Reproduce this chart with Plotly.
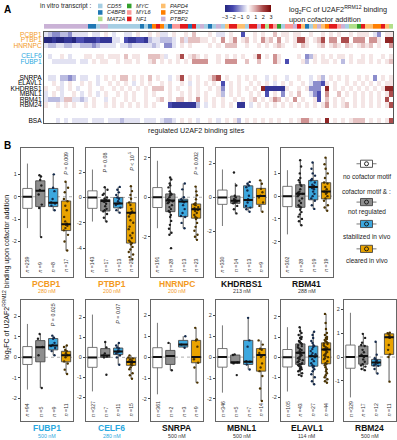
import plotly.graph_objects as go

W, H = 397, 440
FONT = "Liberation Sans, Arial, sans-serif"
ORANGE_T = "#F39A1E"
BLUE_T = "#2AA8E0"

# ---------------- Panel A data ----------------
transcripts = ["CD55", "C4BPB", "MAT2A", "MYC", "MYL6", "NF1", "PAPD4", "PCBP2", "PTBP2"]
transcript_colors = ["#A6CEE3", "#1F78B4", "#B2DF8A", "#33A02C", "#FB9A99",
                     "#E31A1C", "#FDBF6F", "#FF7F00", "#CAB2D6"]
transcript_codes = "CBTMLNAOP"
site_transcript = ("PPPPPPPPPPP" "BB" "C" "PP" "CCCCCCCC" "BCBONOCB" "LLNNBNCPCBCPCA"
                   "NNAACNNPNTNLMC" "LLPNABCAPAONNL" "PCTTMNAAOONAT")

heat_rows = ["PCBP1", "PTBP1", "HNRNPC", "CELF6", "FUBP1", "SNRPA", "ELAVL1",
             "KHDRBS1", "MBNL1", "RBM41", "RBM24", "BSA"]
heat_label_colors = [ORANGE_T, ORANGE_T, ORANGE_T, BLUE_T, BLUE_T, "#000", "#000",
                     "#000", "#000", "#000", "#000", "#000"]
# log2FC levels per site, coded: . 0 | a..f positive | A..F negative
level_code = {".": 0.0, "a": 0.3, "b": 0.7, "c": 1.2, "d": 1.9, "e": 2.5, "f": 3.0,
              "A": -0.3, "B": -0.7, "C": -1.2, "D": -1.9, "E": -2.5, "F": -3.0}
fc_PCBP1 = "ABCCBBCAAA" "A.AA.a.A.." "AA.a..a.aA" "A.a..a.b.." ".a.AA.a..D" "..a.a..b.a" "a.aa..a..a" ".a.a..a.aa" "a.AC.aa"
fc_PTBP1 = "FFEFFEEFDD" "EEEDEEEAA." "DEEDDEBAAB" "BBA.bAbbba" "a.a.c.ac.a" "b.a.cab.c." "a.adda.abd" ".cc.dd.ccc" ".cca.ee"
fc_HNRNPC = "ABBAABBAAB" "BBCBAAAA.A" "ABAAAAABA." "CCA.a.a..." ".a.a.bbb.." "a..a.a.aba" "..a.ba..ab" ".aba.ba.ab" "ab.a..c"
fc_CELF6 = ".A..a.A..." "aa.aa.aaa." "b.aa..bbba" "A..ad.aba." "a..a.a.a.a" "..ad.a.ca." "...a.CBa.a" ".a.aa.a..a" ".a..a.a"
fc_FUBP1 = "..AAAAAA.A" "A.a.aa..a." "aa.a..ab.a" ".a.a.a.ccc" "c..a.ccc.." "b..b...ca." "D...aB.a.a" "a.a.B.a.aa" ".a.a.ab"
fc_SNRPA = ".AA.BBCB.A" "A..A.a.a.b" "b.a.a.b.a." ".A.ad.a.a." ".acd.a..a." "a.a..A.a.." "A..a..A.aB" ".a.a.a..a." "a.C.a.a"
fc_ELAVL1 = "..a.A.a..a" ".a.A..a.a." "a.A.a.a..a" ".a..a.A.a." "a.a.D.a.a." ".a.a.a.A.a" ".a..a.ACCD" "a.a..a.a.a" ".a.a.aa"
fc_KHDRBS1 = "a..aA.a.A." ".a..a..a.a" ".a.a.a.bbb" ".a.a..a.a." ".a.aC.a.a." "a.a.eEEEEE" "a..a.aCCC." "e.a.a.a.a." "a.a.aee"
fc_MBNL1 = "A.a.A..a.A" ".a.A.a..a." "a.a..a.a.." ".a..a.a.a." "a..aB.a.a." ".a.a.D.a.C" ".a.b..ACD." "c..b.a.a.a" ".a.a.ad"
fc_RBM41 = "ABBBAbbAAB" "A.a..A.a.." "a.a..a..ab" ".a.bb.a.c." "a.a.a..a.a" ".ab.a.acb." "a.c.a..aD." "b.a.a..a.a" ".a.a.d."
fc_RBM24 = "a..a.a.a.." "a.a..a.a.a" ".a.a.a.a.." ".DEEEEEEB." "A.a.a.a.EE" ".A.a.a.a.a" ".a.a.a.a.a" "c.a.ab.a.a" ".a.a.ad"
fc_BSA = "...A.A.AAA" "A.AAA.AAAB" "AAAA.AAA.A" "BBA.a.a.A." ".a.A.a.aB." "a.a.a.a.a." ".a.acca.a." "e.a.a.abbb" ".a.a.ad"

# ---------------- Panel B data ----------------
groups = ["no cofactor motif", "not regulated", "stabilized in vivo", "cleared in vivo"]
# per group: [lower whisker, Q1, median, Q3, upper whisker]
PCBP1_stats = [[-1.4, -0.52, 0.0, 0.37, 1.48], [-1.8, -0.44, 0.27, 0.71, 0.96], [-0.62, -0.44, -0.27, 0.37, 1.0], [-2.41, -1.51, -1.23, -0.19, 0.67]]
PCBP1_n = [239, 9, 8, 17]
PCBP1_gray = [0.96, 0.9, 0.75, 0.5, 0.3, 0.1, -0.35, -0.5, -1.8]
PCBP1_blue = [1.0, 0.4, 0.25, -0.1, -0.25, -0.3, -0.4, -0.6]
PCBP1_orange = [0.67, 0.4, 0.2, -0.1, -0.2, -0.4, -0.6, -0.9, -1.1, -1.2, -1.25, -1.3, -1.4, -1.5, -1.7, -2.0, -2.4]

PTBP1_stats = [[-1.9, -0.86, 0.0, 0.52, 2.2], [-1.9, -1.07, -0.29, -0.16, 0.78], [-1.2, -0.82, -0.47, 0.0, 0.83], [-4.86, -3.6, -1.2, -0.42, 0.89]]
PTBP1_n = [143, 17, 13, 28]
PTBP1_gray = [0.8, 0.6, 0.3, 0.2, 0.0, -0.1, -0.2, -0.3, -0.35, -0.5, -0.7, -0.9, -1.0, -1.1, -1.3, -1.6, -1.9]
PTBP1_blue = [0.83, 0.6, 0.4, 0.2, 0.0, -0.1, -0.3, -0.45, -0.5, -0.6, -0.8, -1.0, -1.2]
PTBP1_orange = [0.89, 0.5, 0.2, -0.1, -0.4, -0.6, -0.9, -1.1, -1.2, -1.3, -1.5, -1.8, -2.0, -2.3, -2.5, -2.8, -3.0, -3.2, -3.4, -3.5, -3.6, -3.7, -3.9, -4.1, -4.3, -4.5, -4.7, -4.86]

HNRNPC_stats = [[-1.57, -0.52, 0.0, 0.49, 1.85], [-1.9, -0.73, -0.17, 0.17, 1.0], [-1.57, -0.98, -0.22, -0.1, 0.7], [-2.16, -1.06, -0.61, -0.34, 0.54]]
HNRNPC_n = [191, 28, 13, 23]
HNRNPC_gray = [1.0, 0.9, 0.7, 0.6, 0.5, 0.3, 0.2, 0.15, 0.1, 0.0, -0.1, -0.15, -0.2, -0.25, -0.3, -0.4, -0.5, -0.6, -0.7, -0.75, -0.9, -1.0, -1.2, -1.4, -1.6, -1.8, -1.9, -2.58]
HNRNPC_blue = [0.7, 0.4, 0.0, -0.1, -0.2, -0.25, -0.4, -0.6, -0.8, -0.95, -1.0, -1.3, -1.57]
HNRNPC_orange = [0.54, 0.3, 0.1, -0.1, -0.3, -0.35, -0.4, -0.5, -0.55, -0.6, -0.65, -0.7, -0.8, -0.9, -1.0, -1.05, -1.1, -1.3, -1.5, -1.7, -1.9, -2.0, -2.16]

KHDRBS1_stats = [[-1.68, -0.41, 0.0, 0.43, 1.64], [-0.94, -0.35, -0.2, 0.08, 0.85], [-0.84, -0.61, -0.16, 0.68, 0.91], [-0.84, -0.41, 0.08, 0.53, 1.0]]
KHDRBS1_n = [330, 14, 13, 9]
KHDRBS1_gray = [1.46, 0.7, 0.1, 0.0, -0.1, -0.15, -0.2, -0.2, -0.25, -0.3, -0.35, -0.5, -0.7, -0.94]
KHDRBS1_blue = [0.91, 0.8, 0.7, 0.6, 0.4, 0.1, -0.1, -0.16, -0.3, -0.5, -0.6, -0.7, -0.84]
KHDRBS1_orange = [1.0, 0.8, 0.5, 0.3, 0.1, 0.0, -0.3, -0.5, -0.84]

RBM41_stats = [[-1.68, -0.46, 0.0, 0.43, 1.14], [-1.28, -0.49, 0.1, 0.5, 1.58], [-0.56, -0.16, 0.4, 0.69, 1.48], [-0.64, -0.12, 0.2, 0.59, 1.69]]
RBM41_n = [302, 28, 19, 19]
RBM41_gray = [1.58, 1.3, 1.0, 0.8, 0.7, 0.6, 0.5, 0.45, 0.3, 0.2, 0.15, 0.1, 0.1, 0.05, 0.0, -0.1, -0.2, -0.3, -0.4, -0.45, -0.5, -0.6, -0.7, -0.8, -0.9, -1.0, -1.1, -1.28]
RBM41_blue = [1.48, 1.2, 1.0, 0.9, 0.75, 0.7, 0.6, 0.5, 0.45, 0.4, 0.35, 0.3, 0.2, 0.1, 0.0, -0.1, -0.2, -0.4, -0.56]
RBM41_orange = [1.69, 1.4, 1.2, 1.0, 0.8, 0.6, 0.55, 0.4, 0.3, 0.2, 0.2, 0.15, 0.1, 0.0, -0.1, -0.2, -0.4, -0.5, -0.64]

FUBP1_stats = [[-1.57, -0.35, 0.0, 0.52, 1.62], [-1.49, -0.22, 0.49, 0.81, 1.13], [0.1, 0.36, 0.57, 0.91, 1.05], [-0.81, -0.22, 0.1, 0.29, 0.57]]
FUBP1_n = [94, 5, 9, 11]
FUBP1_gray = [1.13, 0.9, 0.5, 0.1, -1.49]
FUBP1_blue = [1.05, 0.95, 0.9, 0.7, 0.6, 0.55, 0.45, 0.3, 0.1]
FUBP1_orange = [0.57, 0.5, 0.35, 0.3, 0.2, 0.1, 0.0, -0.2, -0.3, -0.6, -0.81]

CELF6_stats = [[-1.71, -0.5, 0.0, 0.5, 2.15], [0.0, 0.0, 0.1, 0.44, 0.77], [-0.37, 0.14, 0.3, 0.47, 0.72], [-1.07, -0.4, -0.23, -0.03, 0.1]]
CELF6_n = [327, 7, 11, 15]
CELF6_gray = [0.77, 0.5, 0.2, 0.1, 0.05, 0.0, -0.87]
CELF6_blue = [0.72, 0.6, 0.5, 0.45, 0.35, 0.3, 0.25, 0.2, 0.1, 0.0, -0.37]
CELF6_orange = [0.1, 0.0, -0.05, -0.1, -0.15, -0.2, -0.23, -0.3, -0.35, -0.4, -0.5, -0.6, -0.8, -0.9, -1.07]

SNRPA_stats = [[-1.78, -0.51, 0.0, 0.45, 1.64], [-0.63, -0.35, 0.05, 0.32, 0.68], [0.45, 0.48, 0.6, 0.8, 1.0], [-1.22, -0.27, 0.0, 0.8, 1.4]]
SNRPA_n = [361, 2, 3, 9]
SNRPA_gray = [0.68, -0.63]
SNRPA_blue = [1.0, 0.6, 0.45]
SNRPA_orange = [1.4, 0.85, 0.8, 0.5, 0.0, -0.1, -0.27, -0.5, -1.22]

MBNL1_stats = [[-1.7, -0.48, 0.0, 0.41, 1.52], [-0.3, -0.3, -0.25, 0.1, 0.13], [-0.59, -0.35, -0.22, 0.8, 1.88], [-2.1, -0.67, 0.1, 0.41, 0.8]]
MBNL1_n = [346, 5, 7, 14]
MBNL1_gray = [0.13, 0.1, -0.25, -0.3, -0.86]
MBNL1_blue = [1.88, 0.8, 0.5, -0.2, -0.22, -0.35, -0.59]
MBNL1_orange = [0.8, 0.6, 0.4, 0.35, 0.2, 0.1, 0.05, 0.0, -0.3, -0.5, -0.67, -0.9, -1.5, -2.1]

ELAVL1_stats = [[-1.71, -0.49, 0.0, 0.38, 1.49], [-0.94, -0.36, 0.22, 0.66, 1.49], [-1.35, -0.45, 0.05, 0.55, 1.26], [-1.27, -0.33, 0.38, 0.71, 2.15]]
ELAVL1_n = [105, 43, 27, 44]
ELAVL1_gray = [1.49, 1.3, 1.2, 1.1, 1.0, 0.95, 0.9, 0.8, 0.75, 0.7, 0.66, 0.6, 0.55, 0.5, 0.45, 0.4, 0.35, 0.3, 0.25, 0.22, 0.2, 0.15, 0.1, 0.05, 0.0, -0.05, -0.1, -0.15, -0.2, -0.25, -0.3, -0.35, -0.36, -0.4, -0.45, -0.5, -0.55, -0.6, -0.65, -0.7, -0.8, -0.88, -0.94]
ELAVL1_blue = [1.26, 1.1, 0.95, 0.8, 0.7, 0.6, 0.55, 0.5, 0.4, 0.3, 0.2, 0.15, 0.1, 0.05, 0.0, -0.1, -0.2, -0.3, -0.4, -0.45, -0.5, -0.6, -0.7, -0.85, -1.0, -1.2, -1.35]
ELAVL1_orange = [2.15, 1.7, 1.4, 1.2, 1.1, 1.0, 0.95, 0.9, 0.85, 0.8, 0.75, 0.71, 0.68, 0.65, 0.6, 0.55, 0.5, 0.45, 0.42, 0.4, 0.38, 0.35, 0.3, 0.25, 0.2, 0.15, 0.1, 0.05, 0.0, -0.05, -0.1, -0.2, -0.3, -0.33, -0.4, -0.5, -0.6, -0.7, -0.8, -0.9, -1.0, -1.1, -1.2, -1.27]

RBM24_stats = [[-1.69, -0.47, 0.0, 0.5, 1.85], [-0.55, -0.3, 0.04, 0.46, 0.97], [-0.69, -0.37, -0.23, -0.1, 0.64], [-1.03, 0.11, 0.83, 0.97, 1.02]]
RBM24_n = [329, 17, 12, 11]
RBM24_gray = [0.97, 0.8, 0.6, 0.5, 0.46, 0.3, 0.2, 0.1, 0.04, 0.0, -0.1, -0.2, -0.3, -0.35, -0.4, -0.5, -0.55]
RBM24_blue = [0.64, 0.1, -0.05, -0.1, -0.15, -0.2, -0.25, -0.3, -0.35, -0.37, -0.5, -0.69]
RBM24_orange = [1.02, 1.0, 0.97, 0.9, 0.83, 0.8, 0.5, 0.3, 0.11, 0.0, -1.03]

# ---------------- helpers ----------------
def px(x):
    return x / W


def py(y):
    return 1 - y / H


def decode(s, n):
    vals = [level_code.get(ch, 0.0) for ch in s]
    return (vals + [0.0] * n)[:n]


fig = go.Figure()
annotations = []
shapes = []
layout_axes = {}

# ---------------- Panel A: heatmap ----------------
n_sites = len(site_transcript)
row_slots = [0, 1, 2, 4, 5, 8, 9, 10, 11, 12, 13, 16]
n_slots = 17
fc_rows = [fc_PCBP1, fc_PTBP1, fc_HNRNPC, fc_CELF6, fc_FUBP1, fc_SNRPA, fc_ELAVL1,
           fc_KHDRBS1, fc_MBNL1, fc_RBM41, fc_RBM24, fc_BSA]
z = [[None] * n_sites for _ in range(n_slots)]
for slot, s in zip(row_slots, fc_rows):
    z[slot] = decode(s, n_sites)

HEAT_CS = [[0.0, "#25267E"], [0.17, "#4446AE"], [0.33, "#9C9DD3"], [0.5, "#FFFFFF"],
           [0.67, "#D9A5A5"], [0.83, "#A84545"], [1.0, "#780808"]]
HX0, HX1, HY0, HY1 = 44, 393, 31, 123
fig.add_trace(go.Heatmap(
    z=z, x=list(range(n_sites)), y=list(range(n_slots)), colorscale=HEAT_CS,
    zmin=-3, zmax=3, xaxis="x", yaxis="y", hoverinfo="skip",
    colorbar=dict(orientation="h", x=px(248), xanchor="center", y=py(4), yanchor="top",
                  len=46, lenmode="pixels", thickness=7, thicknessmode="pixels",
                  tickvals=[-3, -2, -1, 0, 1, 2, 3], ticks="", outlinewidth=0, tickangle=0,
                  tickfont=dict(size=5.5, family=FONT), xpad=0, ypad=0)))
layout_axes["xaxis"] = dict(domain=[px(HX0), px(HX1)], range=[-0.5, n_sites - 0.5],
                            showticklabels=False, ticks="", showgrid=False, zeroline=False,
                            showline=True, mirror=True, linecolor="#555", linewidth=1)
ticktext = ['<span style="color:%s">%s</span>' % (c, r) for r, c in zip(heat_rows, heat_label_colors)]
layout_axes["yaxis"] = dict(domain=[py(HY1), py(HY0)], range=[n_slots - 0.5, -0.5],
                            tickvals=row_slots, ticktext=ticktext, ticks="",
                            tickfont=dict(size=6.6, family=FONT), showgrid=False, zeroline=False,
                            showline=True, mirror=True, linecolor="#555", linewidth=1)

# transcript strip
strip_z = [[transcript_codes.index(ch) for ch in site_transcript]]
nT = len(transcripts)
strip_cs = []
for k, c in enumerate(transcript_colors):
    strip_cs.append([k / nT, c])
    strip_cs.append([(k + 1) / nT, c])
fig.add_trace(go.Heatmap(z=strip_z, x=list(range(n_sites)), colorscale=strip_cs,
                         zmin=-0.5, zmax=nT - 0.5, showscale=False, xaxis="x2", yaxis="y2",
                         hoverinfo="skip"))
layout_axes["xaxis2"] = dict(domain=[px(HX0), px(HX1)], range=[-0.5, n_sites - 0.5],
                             visible=False)
layout_axes["yaxis2"] = dict(domain=[py(28), py(23)], visible=False)

# transcript legend
annotations.append(dict(text="<b>A</b>", x=px(2), y=py(1), xref="paper", yref="paper",
                        xanchor="left", yanchor="top", showarrow=False,
                        font=dict(size=10, family=FONT, color="#000")))
annotations.append(dict(text="in vitro transcript :", x=px(93), y=py(5), xref="paper",
                        yref="paper", xanchor="right", yanchor="middle", showarrow=False,
                        font=dict(size=6.5, family=FONT, color="#222")))
leg_cols_x = [98, 127, 161]
leg_rows_y = [5, 11.5, 18]
for k, (name, col) in enumerate(zip(transcripts, transcript_colors)):
    cx = leg_cols_x[k // 3]
    cy = leg_rows_y[k % 3]
    shapes.append(dict(type="rect", xref="paper", yref="paper", x0=px(cx), x1=px(cx + 4.5),
                       y0=py(cy + 2.3), y1=py(cy - 2.3), fillcolor=col, line=dict(width=0)))
    annotations.append(dict(text="<i>%s</i>" % name, x=px(cx + 6.5), y=py(cy), xref="paper",
                            yref="paper", xanchor="left", yanchor="middle", showarrow=False,
                            font=dict(size=5.6, family=FONT, color="#222")))
annotations.append(dict(text="log<sub>2</sub>FC of U2AF2<sup>RRM12</sup> binding<br>upon cofactor addition",
                        x=px(287), y=py(1), xref="paper", yref="paper", xanchor="left",
                        yanchor="top", align="left", showarrow=False,
                        font=dict(size=7.3, family=FONT, color="#222")))
annotations.append(dict(text="regulated U2AF2 binding sites", x=px(196), y=py(130),
                        xref="paper", yref="paper", xanchor="center", yanchor="middle",
                        showarrow=False, font=dict(size=7.2, family=FONT, color="#222")))

# ---------------- Panel B: boxplots ----------------
FILL = ["#FFFFFF", "#8E8E8E", "#3DA8DF", "#E9A300"]
LINE = ["#6A6A6A", "#4A4A4A", "#4A4A4A", "#4A4A4A"]
PTCOL = ["#000", "#1E1E1E", "#13294A", "#4A3200"]
BLACK = "#111"

panels = [
    ("PCBP1", "280 nM", ORANGE_T, PCBP1_stats, PCBP1_n, [PCBP1_gray, PCBP1_blue, PCBP1_orange],
     [-3.57, 2.16], [-2, -1, 0, 1], {3: "<i>P</i> = 0.009"}),
    ("PTBP1", "200 nM", ORANGE_T, PTBP1_stats, PTBP1_n, [PTBP1_gray, PTBP1_blue, PTBP1_orange],
     [-6.25, 3.87], [-4, -2, 0, 2], {1: "<i>P</i> = 0.08", 3: "<i>P</i> &lt; 10<sup>-5</sup>"}),
    ("HNRNPC", "200 nM", ORANGE_T, HNRNPC_stats, HNRNPC_n, [HNRNPC_gray, HNRNPC_blue, HNRNPC_orange],
     [-4.03, 2.48], [-2, 0, 2], {3: "<i>P</i> = 0.002"}),
    ("KHDRBS1", "213 nM", "#111", KHDRBS1_stats, KHDRBS1_n, [KHDRBS1_gray, KHDRBS1_blue, KHDRBS1_orange],
     [-4.66, 2.88], [-2, 0, 2], {}),
    ("RBM41", "288 nM", "#111", RBM41_stats, RBM41_n, [RBM41_gray, RBM41_blue, RBM41_orange],
     [-3.54, 2.1], [-2, -1, 0, 1], {}),
    ("FUBP1", "500 nM", BLUE_T, FUBP1_stats, FUBP1_n, [FUBP1_gray, FUBP1_blue, FUBP1_orange],
     [-3.1, 2.8], [-2, -1, 0, 1, 2], {2: "<i>P</i> = 0.025"}),
    ("CELF6", "280 nM", BLUE_T, CELF6_stats, CELF6_n, [CELF6_gray, CELF6_blue, CELF6_orange],
     [-3.2, 2.9], [-2, -1, 0, 1, 2], {2: "<i>P</i> = 0.07"}),
    ("SNRPA", "500 nM", "#111", SNRPA_stats, SNRPA_n, [SNRPA_gray, SNRPA_blue, SNRPA_orange],
     [-3.06, 2.75], [-2, -1, 0, 1, 2], {}),
    ("MBNL1", "500 nM", "#111", MBNL1_stats, MBNL1_n, [MBNL1_gray, MBNL1_blue, MBNL1_orange],
     [-3.06, 2.75], [-2, -1, 0, 1, 2], {}),
    ("ELAVL1", "114 nM", "#111", ELAVL1_stats, ELAVL1_n, [ELAVL1_gray, ELAVL1_blue, ELAVL1_orange],
     [-3.18, 2.86], [-2, -1, 0, 1, 2], {}),
    ("RBM24", "500 nM", "#111", RBM24_stats, RBM24_n, [RBM24_gray, RBM24_blue, RBM24_orange],
     [-2.68, 2.4], [-1, 0, 1, 2], {}),
]

col_left = [21, 86, 151, 216, 281, 344]
PW = 51.5
row_top = [148, 300]
row_bot = [277, 422]
BW = 0.72

for k, (name, conc, tcol, stats, ns, pts, yr, ticks, pvals) in enumerate(panels):
    r = 0 if k < 5 else 1
    c = k if k < 5 else k - 5
    ai = k + 3
    xa, ya = "x%d" % ai, "y%d" % ai
    x0 = col_left[c]
    layout_axes["xaxis%d" % ai] = dict(domain=[px(x0), px(x0 + PW)], range=[-0.5, 3.5],
                                       showticklabels=False, ticks="", showgrid=False,
                                       zeroline=False, showline=True, mirror=True,
                                       linecolor="#666", linewidth=1, anchor=ya)
    layout_axes["yaxis%d" % ai] = dict(domain=[py(row_bot[r]), py(row_top[r])], range=yr,
                                       tickvals=ticks, ticktext=[str(t) for t in ticks],
                                       ticks="outside", ticklen=2, tickcolor="#444",
                                       tickfont=dict(size=5.5, family=FONT, color="#333"),
                                       showgrid=False, zeroline=False, showline=True,
                                       mirror=True, linecolor="#666", linewidth=1, anchor=xa)
    shapes.append(dict(type="line", xref="%s domain" % xa, x0=0, x1=1, yref=ya, y0=0, y1=0,
                       line=dict(color="#999", width=0.8, dash="dot"), layer="below"))
    for g in range(4):
        lo, q1, med, q3, hi = stats[g]
        fig.add_trace(go.Box(x=[g], q1=[q1], median=[med], q3=[q3], lowerfence=[lo],
                             upperfence=[hi], orientation="v", width=BW, whiskerwidth=0,
                             fillcolor=FILL[g], line=dict(color=LINE[g], width=0.9),
                             boxpoints=False, xaxis=xa, yaxis=ya, hoverinfo="skip",
                             showlegend=False))
        fig.add_trace(go.Scatter(x=[g - BW / 2, g + BW / 2], y=[med, med], mode="lines",
                                 line=dict(color=BLACK, width=2), xaxis=xa, yaxis=ya,
                                 hoverinfo="skip", showlegend=False))
        if g > 0:
            vals = pts[g - 1]
            fig.add_trace(go.Box(x=[g] * len(vals), y=vals, orientation="v", width=BW,
                                 boxpoints="all", jitter=0.6, pointpos=0,
                                 fillcolor="rgba(0,0,0,0)",
                                 line=dict(color="rgba(0,0,0,0)", width=0),
                                 marker=dict(size=2.4, color=PTCOL[g]),
                                 xaxis=xa, yaxis=ya, hoverinfo="skip", showlegend=False))
        annotations.append(dict(text="<i>n</i> =%d" % ns[g], x=g, xref=xa, y=0.02,
                                yref="%s domain" % ya, textangle=-90, xanchor="center",
                                yanchor="bottom", showarrow=False,
                                font=dict(size=5.2, family=FONT, color="#333")))
    for g, ptxt in pvals.items():
        annotations.append(dict(text=ptxt, x=g, xref=xa, y=0.985, yref="%s domain" % ya,
                                textangle=-90, xanchor="center", yanchor="top",
                                showarrow=False, font=dict(size=5.3, family=FONT, color="#333")))
    cxp = px(x0 + PW / 2)
    annotations.append(dict(text="<b>%s</b>" % name, x=cxp, y=py(row_bot[r] + 7), xref="paper",
                            yref="paper", xanchor="center", yanchor="middle", showarrow=False,
                            font=dict(size=8.5, family=FONT, color=tcol)))
    annotations.append(dict(text=conc, x=cxp, y=py(row_bot[r] + 14.5), xref="paper",
                            yref="paper", xanchor="center", yanchor="middle", showarrow=False,
                            font=dict(size=5.3, family=FONT, color=tcol if tcol != "#111" else "#333")))

annotations.append(dict(text="<b>B</b>", x=px(2), y=py(138), xref="paper", yref="paper",
                        xanchor="left", yanchor="top", showarrow=False,
                        font=dict(size=10, family=FONT, color="#000")))
annotations.append(dict(text="log<sub>2</sub>FC of U2AF2<sup>RRM12</sup> binding upon cofactor addition",
                        x=px(7), y=py(278), xref="paper", yref="paper", textangle=-90,
                        xanchor="center", yanchor="middle", showarrow=False,
                        font=dict(size=7, family=FONT, color="#111")))

# right-hand legend for groups
LX = 366.5
leg_items = [(163.5, 176, 0, "no cofactor motif"), (202, 212, 1, "not regulated"),
             (224, 237, 2, "stabilized in vivo"), (249, 261, 3, "cleared in vivo")]
for sy, ty, g, label in leg_items:
    shapes.append(dict(type="line", xref="paper", yref="paper", x0=px(LX - 10), x1=px(LX + 10),
                       y0=py(sy), y1=py(sy), line=dict(color="#555", width=0.8)))
    shapes.append(dict(type="rect", xref="paper", yref="paper", x0=px(LX - 6), x1=px(LX + 6),
                       y0=py(sy + 3.6), y1=py(sy - 3.6), fillcolor=FILL[g],
                       line=dict(color="#444", width=0.9)))
    shapes.append(dict(type="circle", xref="paper", yref="paper", x0=px(LX - 2), x1=px(LX + 2),
                       y0=py(sy + 2), y1=py(sy - 2), fillcolor="rgba(0,0,0,0)",
                       line=dict(color="#111", width=0.9)))
    annotations.append(dict(text=label, x=px(LX), y=py(ty), xref="paper", yref="paper",
                            xanchor="center", yanchor="middle", showarrow=False,
                            font=dict(size=6.5, family=FONT, color="#222")))
annotations.append(dict(text="cofactor motif &amp; :", x=px(LX), y=py(191), xref="paper",
                        yref="paper", xanchor="center", yanchor="middle", showarrow=False,
                        font=dict(size=6.5, family=FONT, color="#222")))

fig.update_layout(
    width=W, height=H, autosize=False, margin=dict(l=0, r=0, t=0, b=0),
    paper_bgcolor="white", plot_bgcolor="rgba(0,0,0,0)", showlegend=False,
    boxmode="overlay", hovermode=False, font=dict(family=FONT, size=6.5, color="#222"),
    annotations=annotations, shapes=shapes, **layout_axes)

fig.write_html("out.html", config={"displayModeBar": False, "staticPlot": True},
               post_script="document.body.style.margin='0px';document.body.style.padding='0px';")
